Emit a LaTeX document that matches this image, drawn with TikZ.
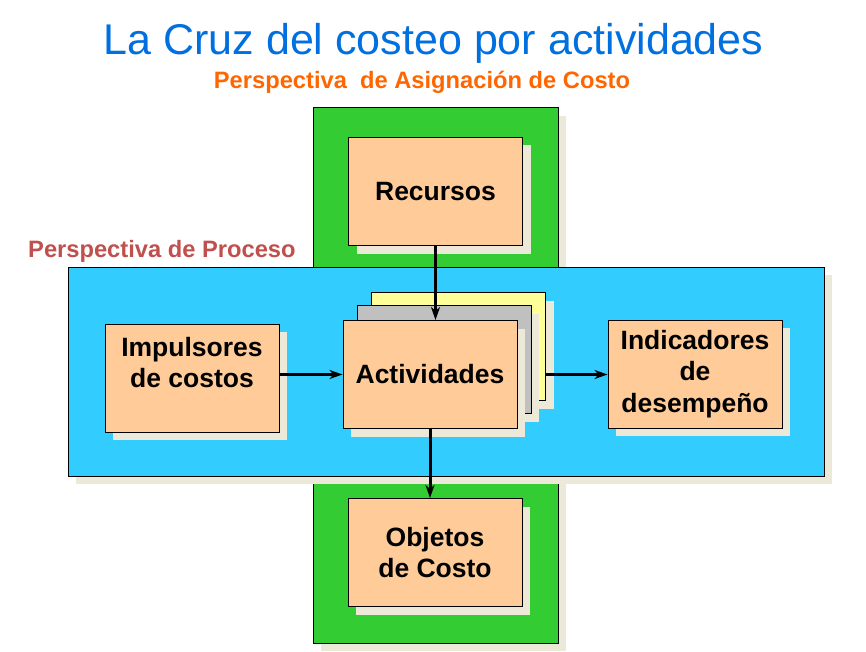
\documentclass[tikz,border=0pt]{standalone}
\usepackage{fontspec}
\setmainfont{Liberation Sans}
\usetikzlibrary{arrows.meta,shadows}
\definecolor{titleblue}{RGB}{0,112,224}
\definecolor{suborange}{RGB}{255,102,0}
\definecolor{procred}{RGB}{192,80,77}
\definecolor{crossgreen}{RGB}{51,204,51}
\definecolor{crossblue}{RGB}{51,204,255}
\definecolor{cardorange}{RGB}{255,204,153}
\definecolor{cardgray}{RGB}{192,192,192}
\definecolor{cardyellow}{RGB}{255,255,153}
\definecolor{shadowbeige}{RGB}{236,233,216}
\newcommand\cardfont{\fontsize{26.5pt}{31.5pt}\selectfont\bfseries}
\begin{document}
\begin{tikzpicture}[x=1pt,y=-1pt,
  beigeshadow/.style={general shadow={fill=shadowbeige,shadow xshift=8pt,shadow yshift=-8pt}},
  panel/.style={draw=black,line width=1pt,beigeshadow},
  card/.style={panel,fill=cardorange,minimum width=174pt,minimum height=108pt,
    inner sep=2pt,align=center,font=\cardfont},
  flow/.style={line width=3pt,-{Stealth[length=13pt,width=9pt,inset=4pt]}}]
  \useasboundingbox (0,0) rectangle (866,652);

  % Titles
  \node (title) at (433.5,55) [anchor=base,text=titleblue,
    font=\fontsize{43pt}{50pt}\selectfont] {La Cruz del costeo por actividades};
  \node (asig) at (422,89) [anchor=base,text=suborange,
    font=\fontsize{23.7pt}{28pt}\selectfont\bfseries] {Perspectiva\ \ de Asignación de Costo};
  \node (proc) at (28,257) [anchor=base west,inner sep=0pt,text=procred,
    font=\fontsize{23.7pt}{28pt}\selectfont\bfseries] {Perspectiva de Proceso};

  % Cross
  \draw[panel,fill=crossgreen] (313,108) rectangle (558,268);
  \draw[panel,fill=crossgreen] (313,470) rectangle (558,643);
  \draw[panel,fill=crossblue] (68,267) rectangle (824,476);

  % Boxes
  \node[card] (rec) at (435.5,191.5) {Recursos};
  \node[card] (imp) at (192,378) {Impulsores\\de costos\\\mbox{}};
  \node[card,fill=cardyellow] (actY) at (458.5,346.5) {};
  \node[card,fill=cardgray] (actG) at (444,359.5) {};
  \node[card] (act) at (430,374.5) {Actividades};
  \node[card] (ind) at (695,374) {Indicadores\\de\\desempeño};
  \node[card] (obj) at (435,552.5) {Objetos\\de Costo};

  % Arrows
  \draw[flow] (rec.south) -- (rec.south |- act.north);
  \draw[flow] (imp.east |- act.west) -- (act.west);
  \draw[flow] (actY.east |- act) -- (ind.west |- act);
  \draw[flow] (act.south) -- (act.south |- obj.north);
\end{tikzpicture}
\end{document}
